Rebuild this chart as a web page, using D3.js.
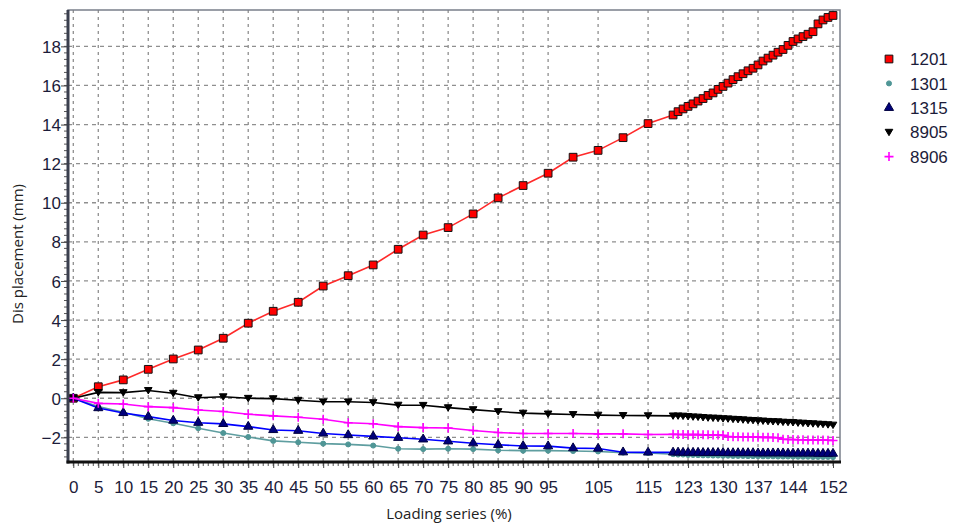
<!DOCTYPE html>
<html>
<head>
<meta charset="utf-8">
<script src="https://cdn.jsdelivr.net/npm/d3@7"></script>
<style>
  body { margin: 0; background: #fff; }
  text { font-family: "Liberation Sans", Arial, sans-serif; fill: #1c1c3a; }
  .title { font-family: "Open Sans", sans-serif; fill: #222; }
</style>
</head>
<body>
<svg id="chart" width="955" height="527"></svg>
<script>
// loading steps (%)
const loading = [0,5,10,15,20,25,30,35,40,45,50,55,60,65,70,75,80,85,90,95,100,105,110,115,120,
  121,122,123,124,125,126,127,128,129,130,131,132,133,134,135,136,137,138,139,140,
  141,142,143,144,145,146,147,148,149,150,151,152];

const d1201 = [0,0.59,0.94,1.48,2.01,2.47,3.07,3.84,4.45,4.91,5.74,6.27,6.82,7.62,8.35,8.73,9.43,10.25,10.88,11.51,12.33,12.68,13.33,14.05,14.49,
  14.66,14.80,14.93,15.06,15.20,15.33,15.49,15.62,15.80,15.95,16.12,16.30,16.45,16.60,16.75,16.88,17.05,17.25,17.40,17.55,
  17.70,17.84,18.05,18.25,18.38,18.50,18.62,18.75,19.15,19.35,19.48,19.58];

const d1301 = [0,-0.42,-0.72,-1.05,-1.28,-1.53,-1.78,-1.98,-2.18,-2.25,-2.32,-2.36,-2.42,-2.58,-2.6,-2.58,-2.6,-2.66,-2.68,-2.68,-2.7,-2.72,-2.78,-2.8,-2.86,
  -2.88,-2.88,-2.9,-2.9,-2.91,-2.92,-2.92,-2.93,-2.93,-2.94,-2.94,-2.95,-2.95,-2.95,-2.96,-2.96,-2.96,-2.97,-2.97,-2.97,
  -2.98,-2.98,-2.98,-2.98,-2.99,-2.99,-2.99,-3.0,-3.0,-3.0,-3.0,-3.01];

const d1315 = [0,-0.5,-0.75,-0.94,-1.14,-1.25,-1.31,-1.45,-1.62,-1.66,-1.8,-1.88,-1.95,-2.02,-2.1,-2.2,-2.3,-2.38,-2.44,-2.45,-2.55,-2.57,-2.76,-2.77,-2.77,
  -2.77,-2.78,-2.78,-2.78,-2.78,-2.79,-2.79,-2.79,-2.79,-2.79,-2.8,-2.8,-2.8,-2.8,-2.8,-2.8,-2.81,-2.81,-2.81,-2.81,
  -2.81,-2.81,-2.82,-2.82,-2.82,-2.82,-2.82,-2.82,-2.83,-2.83,-2.83,-2.83];

const d8905 = [0,0.3,0.29,0.4,0.26,0.03,0.08,0.0,-0.02,-0.1,-0.18,-0.18,-0.22,-0.35,-0.36,-0.48,-0.58,-0.68,-0.76,-0.8,-0.83,-0.86,-0.88,-0.89,-0.9,
  -0.9,-0.91,-0.93,-0.95,-0.96,-0.98,-1.0,-1.01,-1.02,-1.04,-1.05,-1.07,-1.08,-1.1,-1.12,-1.13,-1.15,-1.16,-1.18,-1.19,
  -1.2,-1.22,-1.23,-1.24,-1.26,-1.27,-1.29,-1.3,-1.32,-1.33,-1.35,-1.37];

const d8906 = [0,-0.26,-0.29,-0.43,-0.48,-0.6,-0.68,-0.82,-0.9,-0.97,-1.07,-1.25,-1.3,-1.45,-1.5,-1.52,-1.65,-1.75,-1.8,-1.8,-1.8,-1.82,-1.82,-1.85,-1.84,
  -1.85,-1.85,-1.86,-1.86,-1.86,-1.87,-1.87,-1.88,-1.88,-1.9,-1.96,-1.97,-1.97,-1.98,-1.98,-1.99,-1.99,-2.0,-2.0,-2.01,
  -2.02,-2.1,-2.11,-2.11,-2.12,-2.12,-2.13,-2.13,-2.14,-2.14,-2.15,-2.16];

const seriesNames = ['1201', '1301', '1315', '8905', '8906'];
const seriesData = [d1201, d1301, d1315, d8905, d8906];

const xTickValues = [0,5,10,15,20,25,30,35,40,45,50,55,60,65,70,75,80,85,90,95,105,115,123,130,137,144,152];
const yTickValues = [-2,0,2,4,6,8,10,12,14,16,18];

const styles = {
  '1201': { line: '#ff2a2a', fill: '#ff0000', stroke: '#111', sym: 'square' },
  '1301': { line: '#5f9ea0', fill: '#4f9696', stroke: '#4f9696', sym: 'dot' },
  '1315': { line: '#0000ff', fill: '#00007a', stroke: '#000040', sym: 'up' },
  '8905': { line: '#000000', fill: '#000000', stroke: '#000', sym: 'down' },
  '8906': { line: '#ff00ff', fill: 'none', stroke: '#ff00ff', sym: 'plus' }
};

const plot = { left: 68, right: 840, top: 10, bottom: 462 };

const svg = d3.select('#chart');
const x = d3.scaleLinear().domain([-1.06, 153.4]).range([plot.left, plot.right]);
const y = d3.scaleLinear().domain([-3.26, 19.86]).range([plot.bottom, plot.top]);

function symbolPath(kind){
  if(kind === 'square') return d3.symbol(d3.symbolSquare, 60)();
  if(kind === 'dot') return d3.symbol(d3.symbolCircle, 20)();
  if(kind === 'up') return d3.symbol(d3.symbolTriangle, 36)();
  if(kind === 'down') return 'M-3.8,-2.9L3.8,-2.9L0,3.5Z';
  return 'M-4.5,0H4.5M0,-4.5V4.5';
}

function drawGrid(){
  const g = svg.append('g').attr('id', 'grid');
  g.selectAll('line.v')
    .data(xTickValues)
    .join('line')
      .attr('class', 'v')
      .attr('x1', d => x(d)).attr('x2', d => x(d))
      .attr('y1', plot.top).attr('y2', plot.bottom)
      .attr('stroke', '#8f8f8f').attr('stroke-width', 1.3)
      .attr('stroke-dasharray', '3,4');
  g.selectAll('line.h')
    .data(yTickValues)
    .join('line')
      .attr('class', 'h')
      .attr('x1', plot.left).attr('x2', plot.right)
      .attr('y1', d => y(d)).attr('y2', d => y(d))
      .attr('stroke', '#8f8f8f').attr('stroke-width', 1.3)
      .attr('stroke-dasharray', '4,4');
}

function drawAxes(){
  // frame
  svg.append('rect')
    .attr('x', plot.left).attr('y', plot.top)
    .attr('width', plot.right - plot.left).attr('height', plot.bottom - plot.top)
    .attr('fill', 'none').attr('stroke', '#7a7f8a').attr('stroke-width', 1.5);

  // minor ticks
  const xMinor = d3.range(0, 153, 1);
  const yMinor = d3.range(-3, 19.8, 1/3);
  svg.append('g').attr('id', 'x-minor')
    .selectAll('line').data(xMinor).join('line')
      .attr('x1', d => x(d)).attr('x2', d => x(d))
      .attr('y1', plot.bottom).attr('y2', plot.bottom + 4)
      .attr('stroke', '#555').attr('stroke-width', 1);
  svg.append('g').attr('id', 'y-minor')
    .selectAll('line').data(yMinor).join('line')
      .attr('x1', plot.left - 4).attr('x2', plot.left)
      .attr('y1', d => y(d)).attr('y2', d => y(d))
      .attr('stroke', '#555').attr('stroke-width', 1);

  const xAxis = d3.axisBottom(x).tickValues(xTickValues).tickSize(6).tickSizeOuter(0);
  const yAxis = d3.axisLeft(y).tickValues(yTickValues).tickSize(7).tickSizeOuter(0);

  const gx = svg.append('g').attr('id', 'axis-x')
    .attr('transform', `translate(0 ${plot.bottom})`)
    .call(xAxis);
  gx.select('.domain').remove();
  gx.selectAll('line').attr('stroke', '#444');
  gx.selectAll('text').attr('font-size', 17).attr('dy', null).attr('y', 31)
    .attr('font-family', '"Liberation Sans", Arial, sans-serif').attr('fill', '#1c1c3a');

  const gy = svg.append('g').attr('id', 'axis-y')
    .attr('transform', `translate(${plot.left} 0)`)
    .call(yAxis);
  gy.select('.domain').remove();
  gy.selectAll('line').attr('stroke', '#444');
  gy.selectAll('text').attr('font-size', 17).attr('x', -7).attr('dy', '0.36em')
    .attr('font-family', '"Liberation Sans", Arial, sans-serif').attr('fill', '#1c1c3a');

  // heavy left & bottom axis lines
  svg.append('line')
    .attr('x1', plot.left).attr('x2', plot.left)
    .attr('y1', plot.top).attr('y2', plot.bottom + 1.5)
    .attr('stroke', '#3a3f4e').attr('stroke-width', 3);
  svg.append('line')
    .attr('x1', plot.left - 1.5).attr('x2', plot.right + 1)
    .attr('y1', plot.bottom).attr('y2', plot.bottom)
    .attr('stroke', '#111').attr('stroke-width', 3);

  svg.append('text').attr('class', 'title')
    .attr('x', 449).attr('y', 519)
    .attr('text-anchor', 'middle').attr('font-size', 15)
    .text('Loading series (%)');
  svg.append('text').attr('class', 'title')
    .attr('transform', 'translate(23 254) rotate(-90)')
    .attr('text-anchor', 'middle').attr('font-size', 15)
    .text('Dis placement (mm)');
}

function drawSeries(){
  const line = d3.line().x((d, i) => x(loading[i])).y(d => y(d));
  seriesNames.forEach((name, k) => {
    const st = styles[name];
    const g = svg.append('g').attr('id', 's' + name);
    g.append('path')
      .datum(seriesData[k])
      .attr('d', line)
      .attr('fill', 'none')
      .attr('stroke', st.line)
      .attr('stroke-width', 1.6);
    g.selectAll('path.m')
      .data(seriesData[k])
      .join('path')
        .attr('class', 'm')
        .attr('d', symbolPath(st.sym))
        .attr('transform', (d, i) => `translate(${x(loading[i])} ${y(d)})`)
        .attr('fill', st.fill)
        .attr('stroke', st.stroke)
        .attr('stroke-width', st.sym === 'plus' ? 1.6 : 1);
  });
}

function drawLegend(){
  const g = svg.append('g').attr('id', 'legend');
  const row = g.selectAll('g')
    .data(seriesNames)
    .join('g')
      .attr('transform', (d, i) => `translate(889 ${59 + i * 24.4})`);
  row.append('path')
    .attr('d', d => symbolPath(styles[d].sym))
    .attr('fill', d => styles[d].fill)
    .attr('stroke', d => styles[d].stroke)
    .attr('stroke-width', d => styles[d].sym === 'plus' ? 1.6 : 1);
  row.append('text')
    .attr('x', 21).attr('dy', '0.36em')
    .attr('font-size', 17)
    .text(d => d);
}

drawGrid();
drawSeries();
drawAxes();
drawLegend();
</script>
</body>
</html>
